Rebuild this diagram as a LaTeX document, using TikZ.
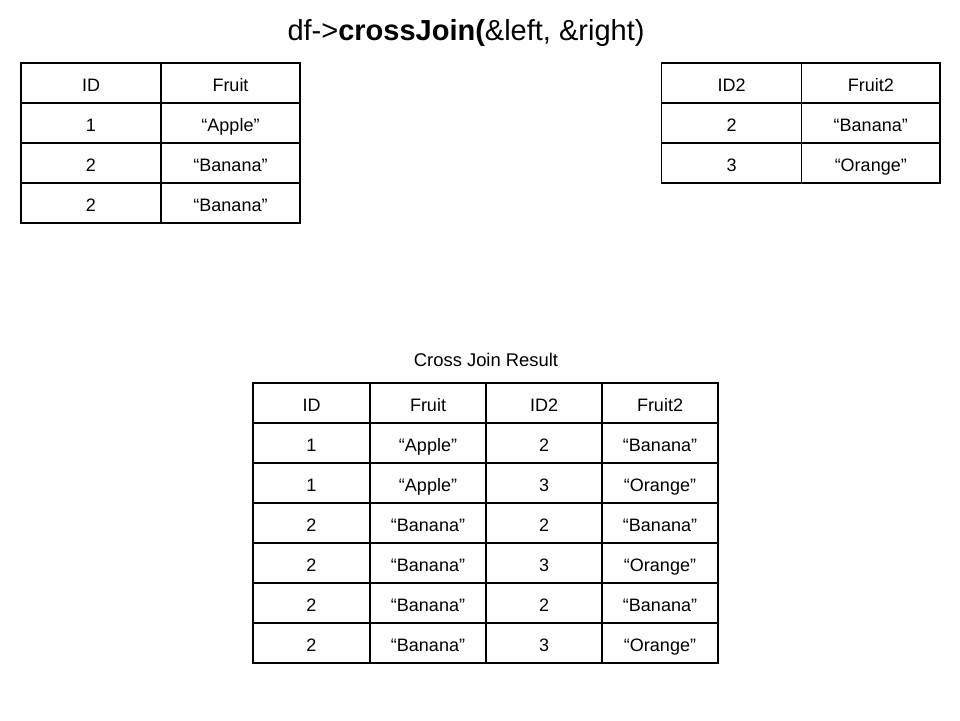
\documentclass[tikz,border=0pt]{standalone}
\usepackage{fontspec}
\setmainfont{Liberation Sans}
\begin{document}
\begin{tikzpicture}[x=1pt,y=-1pt,
  cell/.style={draw=black,line width=1.3pt,inner sep=0pt,minimum height=40pt,
    text height=16.9pt,text depth=0pt,font=\fontsize{18}{21}\selectfont},
  titletext/.style={inner sep=0pt,anchor=base,font=\fontsize{29}{34}\selectfont},
  captext/.style={inner sep=0pt,anchor=base,font=\fontsize{18.4}{22}\selectfont}]
\useasboundingbox[fill=white] (0,0) rectangle (960,720);
\node[titletext] (title) at (466,40) {df->\textbf{crossJoin(}\&left, \&right)};
% left table
\foreach \r/\a [count=\i from 0] in {ID/Fruit,1/“Apple”,2/“Banana”,2/“Banana”}{
  \node[cell,minimum width=140pt] (L-\i-1) at (91,83+40*\i) {\r};
  \node[cell,minimum width=139pt] (L-\i-2) at (230.5,83+40*\i) {\a};
}
% right table
\foreach \r/\a [count=\i from 0] in {ID2/Fruit2,2/“Banana”,3/“Orange”}{
  \node[cell,minimum width=140pt] (R-\i-1) at (731.5,83+40*\i) {\r};
  \node[cell,minimum width=138.5pt] (R-\i-2) at (870.75,83+40*\i) {\a};
}
% result
\node[captext] (cap) at (486,366) {Cross Join Result};
\foreach \p/\q/\s/\t [count=\i from 0] in {ID/Fruit/ID2/Fruit2,1/“Apple”/2/“Banana”,1/“Apple”/3/“Orange”,2/“Banana”/2/“Banana”,2/“Banana”/3/“Orange”,2/“Banana”/2/“Banana”,2/“Banana”/3/“Orange”}{
  \node[cell,minimum width=117pt] (X-\i-1) at (311.5,403+40*\i) {\p};
  \node[cell,minimum width=116pt] (X-\i-2) at (428,403+40*\i) {\q};
  \node[cell,minimum width=116pt] (X-\i-3) at (544,403+40*\i) {\s};
  \node[cell,minimum width=116pt] (X-\i-4) at (660,403+40*\i) {\t};
}
\end{tikzpicture}
\end{document}
